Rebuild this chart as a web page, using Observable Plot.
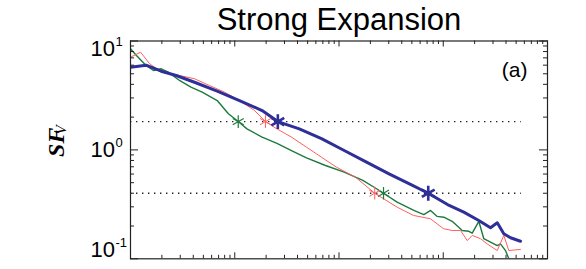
<!DOCTYPE html>
<html><head><meta charset="utf-8">
<script src="https://cdn.jsdelivr.net/npm/d3@7"></script>
<script src="https://cdn.jsdelivr.net/npm/@observablehq/plot@0.6"></script>
<style>html,body{margin:0;padding:0;overflow:hidden;background:#fff}</style>
</head><body><div id="chart"></div>
<script>
// ---- data ----
const lagBlue = [10, 14.1, 19.7, 27.4, 41.1, 67.9, 111, 183, 259, 416, 679, 1122, 1836, 3020, 4960, 7180, 10990, 15740, 21930, 28400, 32970, 38100, 44170, 55080];
const sfBlue  = [5.75, 6.0, 5.28, 4.82, 4.18, 3.46, 2.84, 2.30, 1.82, 1.56, 1.27, 0.987, 0.771, 0.603, 0.478, 0.40, 0.315, 0.268, 0.225, 0.193, 0.214, 0.170, 0.156, 0.145];

const lagRed = [10, 12.5, 15.2, 19.7, 29.5, 41.1, 57.3, 79.8, 111, 155, 197, 251, 350, 488, 679, 946, 1439, 2203, 3612, 5184, 7551, 10050, 12180, 14650, 16990, 18970, 22770, 26400, 32970, 38100, 42560, 55080];
const sfRed  = [7.10, 7.89, 6.21, 5.17, 4.82, 4.50, 3.90, 3.39, 2.84, 2.30, 1.82, 1.57, 1.31, 1.06, 0.857, 0.694, 0.561, 0.40, 0.298, 0.250, 0.233, 0.189, 0.182, 0.182, 0.147, 0.164, 0.153, 0.137, 0.119, 0.164, 0.119, 0.122];

const lagGreen = [10, 11.4, 14.1, 16.6, 19.7, 23.1, 29.5, 38.0, 48.7, 67.9, 86.9, 108, 131, 183, 254, 350, 488, 742, 1122, 1692, 2173, 2673, 3612, 5222, 6508, 7551, 8750, 10120, 12180, 15200, 17590, 18970, 21930, 24490, 28400, 32970, 35400, 39540, 44170, 50000];
const sfGreen  = [8.48, 7.36, 5.96, 5.36, 5.56, 5.17, 4.34, 3.77, 3.39, 2.84, 2.15, 1.82, 1.56, 1.31, 1.15, 0.987, 0.846, 0.719, 0.624, 0.524, 0.454, 0.40, 0.331, 0.278, 0.255, 0.278, 0.245, 0.241, 0.221, 0.182, 0.179, 0.172, 0.221, 0.153, 0.142, 0.132, 0.137, 0.119, 0.092, 0.07];

const refLevels = [1.82, 0.40];
const refStart = 10, refEnd = 56000;

const starsBlue  = [[259, 1.82], [7180, 0.40]];
const starsRed   = [[197, 1.82], [2203, 0.40]];
const starsGreen = [[108, 1.82], [2673, 0.40]];

const xMajor = [10, 100, 1000, 10000, 100000];
const xExp = ["1", "2", "3", "4", "5"];
const xMinor = [20,30,40,50,60,70,80,90,200,300,400,500,600,700,800,900,2000,3000,4000,5000,6000,7000,8000,9000,20000,30000,40000,50000,60000,70000,80000,90000];
const yMajor = [0.1, 1, 10];
const yExp = ["-1", "0", "1"];
const yMinor = [0.2,0.3,0.4,0.5,0.6,0.7,0.8,0.9,2,3,4,5,6,7,8,9];

const titleText = "Strong Expansion";
const panelText = "(a)";

// ---- layout ----
const W = 586, H = 300, mL = 130, mR = 39, mT = 40.5, mB = H - 258.3;
const fw = W - mL - mR, fh = H - mT - mB;
const toRows = (xs, ys) => xs.map((x, i) => ({lag: x, sf: ys[i]}));
const BLUE = "#2e2f98", RED = "#ff5f5f", GREEN = "#1d7a3e";
const sans = "Liberation Sans, Arial, Helvetica, sans-serif";
const serif = "Liberation Serif, Times New Roman, serif";
const yShift = [-9, 0, 8];
const M = "middle";

const marks = [
  Plot.ruleY(refLevels, {y: d => d, x1: refStart, x2: refEnd, stroke: "#222", strokeWidth: 1.4, strokeDasharray: "1.4,4.6"}),
  Plot.line(toRows(lagGreen, sfGreen), {x: "lag", y: "sf", stroke: GREEN, strokeWidth: 1.4, clip: true}),
  Plot.line(toRows(lagRed, sfRed), {x: "lag", y: "sf", stroke: RED, strokeWidth: 1, clip: true}),
  Plot.line(toRows(lagBlue, sfBlue), {x: "lag", y: "sf", stroke: BLUE, strokeWidth: 3, clip: true}),
  Plot.dot(starsGreen, {x: d => d[0], y: d => d[1], symbol: "asterisk", r: 6, stroke: GREEN, strokeWidth: 1.2}),
  Plot.dot(starsRed, {x: d => d[0], y: d => d[1], symbol: "asterisk", r: 6, stroke: RED, strokeWidth: 1}),
  Plot.dot(starsBlue, {x: d => d[0], y: d => d[1], symbol: "asterisk", r: 7, stroke: BLUE, strokeWidth: 2.6}),
  Plot.frame({stroke: "#222", strokeWidth: 1.2}),
  // inward ticks
  Plot.tickY(yMinor, {y: d => d, insetRight: fw - 4, stroke: "#222"}),
  Plot.tickY(yMinor, {y: d => d, insetLeft: fw - 4, stroke: "#222"}),
  Plot.tickY(yMajor, {y: d => d, insetRight: fw - 8, stroke: "#222"}),
  Plot.tickY(yMajor, {y: d => d, insetLeft: fw - 8, stroke: "#222"}),
  Plot.tickX(xMinor, {x: d => d, insetBottom: fh - 3.5, stroke: "#222"}),
  Plot.tickX(xMinor, {x: d => d, insetTop: fh - 3.5, stroke: "#222"}),
  Plot.tickX(xMajor, {x: d => d, insetBottom: fh - 6, stroke: "#222"}),
  Plot.tickX(xMajor, {x: d => d, insetTop: fh - 6, stroke: "#222"}),
  // x tick labels (mostly below the visible area, as in the reference)
  Plot.text(xMajor, {x: d => d, frameAnchor: "bottom", lineAnchor: M, text: () => "10", fontSize: 22, dy: 23, fill: "black"}),
  Plot.text(xMajor, {x: d => d, frameAnchor: "bottom", lineAnchor: M, text: (d, i) => xExp[i], fontSize: 13, textAnchor: "start", dx: 13, dy: 15.5, fill: "black"}),
  // y tick labels
  ...yMajor.map((v, i) => Plot.text([v], {y: d => d, frameAnchor: "left", lineAnchor: M, text: () => "10", fontSize: 22, textAnchor: "end", dx: -15.5, dy: yShift[i], fill: "black"})),
  ...yMajor.map((v, i) => Plot.text([v], {y: d => d, frameAnchor: "left", lineAnchor: M, text: () => yExp[i], fontSize: 13, textAnchor: "start", dx: -15, dy: yShift[i] - 7, fill: "black"})),
  // titles
  Plot.text([titleText], {frameAnchor: "top", lineAnchor: M, text: d => d, fontSize: 31, dy: -20.5, fill: "black"}),
  Plot.text([panelText], {frameAnchor: "top-right", lineAnchor: M, text: d => d, fontSize: 21, textAnchor: "end", dx: -20, dy: 29.5, fill: "black"}),
  Plot.text(["SF"], {frameAnchor: "left", lineAnchor: M, text: d => d, rotate: -90, fontSize: 24, fontWeight: "bold", fontStyle: "italic", fontFamily: serif, dx: -74, dy: 7, fill: "black"}),
  Plot.text(["V"], {frameAnchor: "left", lineAnchor: M, text: d => d, rotate: -90, fontSize: 15, fontStyle: "italic", fontFamily: serif, dx: -69, dy: -15.5, fill: "black"})
];

const plot = Plot.plot({
  width: W, height: H,
  marginLeft: mL, marginRight: mR, marginTop: mT, marginBottom: mB,
  x: {type: "log", domain: [10, 100000], axis: null},
  y: {type: "log", domain: [0.1, 10], axis: null},
  style: {fontFamily: sans, background: "white", overflow: "visible"},
  marks
});
document.getElementById("chart").appendChild(plot);
</script>
</body></html>
